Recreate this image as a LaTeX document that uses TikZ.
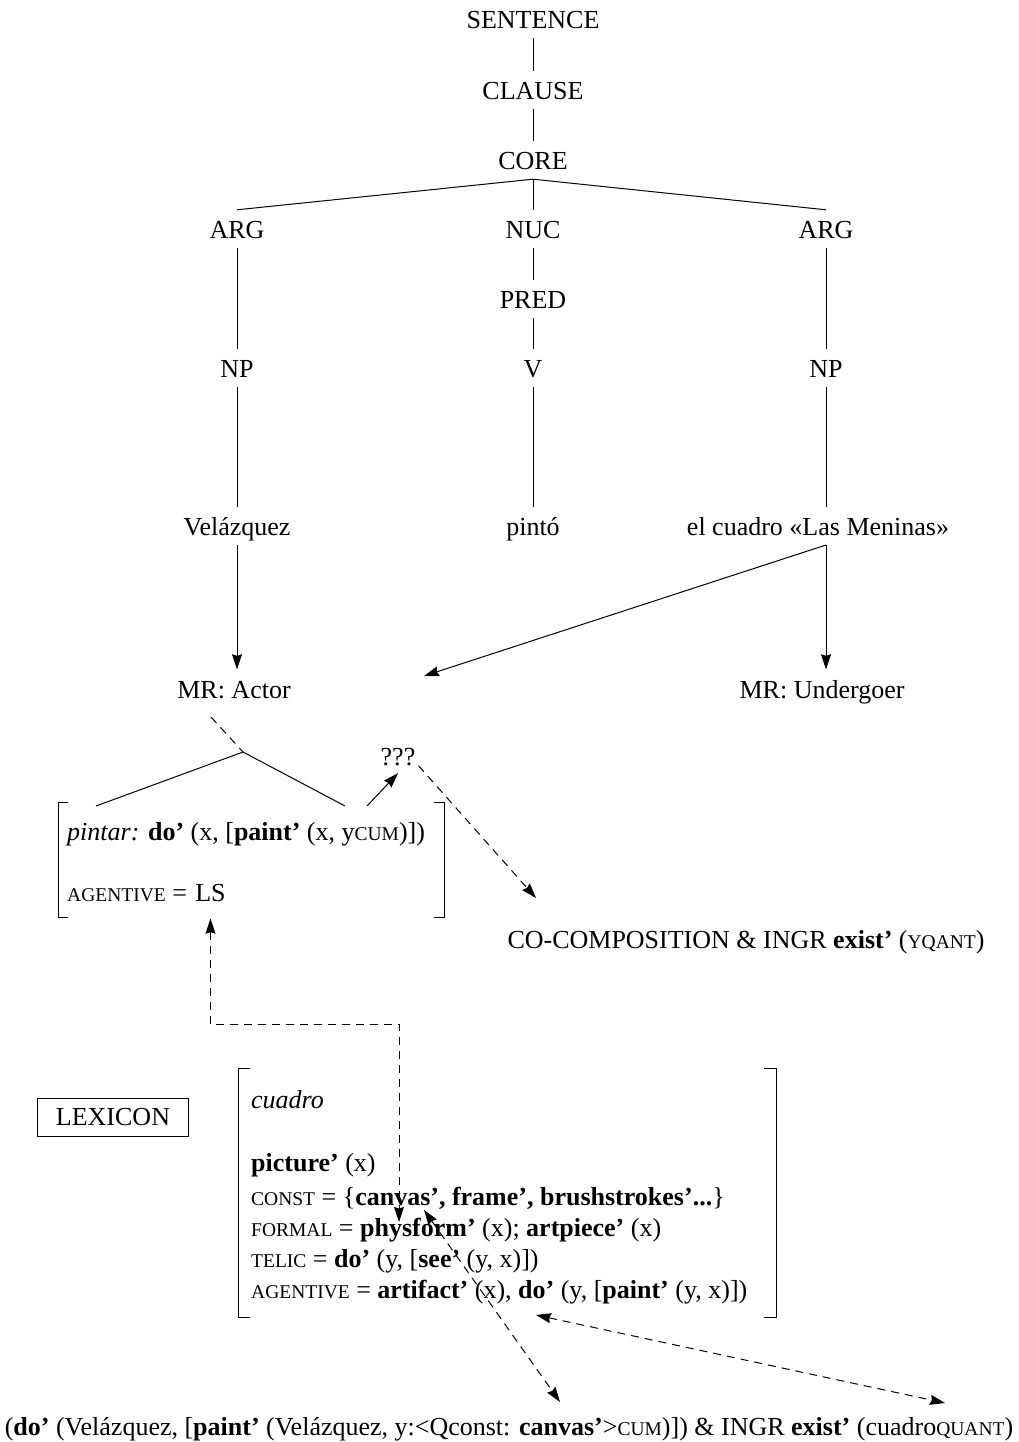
\documentclass[tikz,border=0pt]{standalone}
\usepackage{fontspec}
\setmainfont{Liberation Serif}
\usetikzlibrary{arrows.meta}
\newcommand\smcp[1]{{\fontsize{19.5}{22}\selectfont #1}}
\begin{document}
\begin{tikzpicture}[x=1pt,y=-1pt,
  every node/.style={font=\fontsize{26}{31}\selectfont},
  lbl/.style={inner xsep=3pt, inner ysep=0pt, text height=17pt, text depth=0pt},
  ln/.style={line width=1pt},
  tree/.style={ln, shorten <=9.5pt, shorten >=11pt},
  arr/.style={ln, -{Stealth[length=15pt,width=10pt,inset=1.5pt]}},
  dsh/.style={ln, dash pattern=on 8pt off 6pt},
  darr/.style={dsh, -{Stealth[length=15pt,width=10pt,inset=1.5pt]}},
  ddarr/.style={dsh, {Stealth[length=15pt,width=10pt,inset=1.5pt]}-{Stealth[length=15pt,width=10pt,inset=1.5pt]}},
]
\useasboundingbox (0,0) rectangle (1019,1442);
% tree
\node[lbl] (sent) at (533,20) {SENTENCE};
\node[lbl] (clause) at (533,91) {CLAUSE};
\node[lbl] (core) at (533,161) {CORE};
\node[lbl] (argL) at (237,230) {ARG};
\node[lbl] (nuc) at (533,230) {NUC};
\node[lbl] (argR) at (826,230) {ARG};
\node[lbl] (pred) at (533,300) {PRED};
\node[lbl] (npL) at (237,369) {NP};
\node[lbl] (verb) at (533,369) {V};
\node[lbl] (npR) at (826,369) {NP};
\node[lbl] (vel) at (237,527) {Velázquez};
\node[lbl] (pinto) at (533,527) {pintó};
\node[lbl] (cuad) at (818,527) {el cuadro «Las Meninas»};
\node[lbl] (actor) at (234,690) {MR: Actor};
\node[lbl] (under) at (822,690) {MR: Undergoer};

\draw[tree] (sent) -- (clause);
\draw[tree] (clause) -- (core);
\draw[ln] ([yshift=-9.5pt]core.south) -- ([yshift=11.5pt]argL.north);
\draw[ln] ([yshift=-9.5pt]core.south) -- ([yshift=11pt]nuc.north);
\draw[ln] ([yshift=-9.5pt]core.south) -- ([yshift=11.5pt]argR.north);
\draw[tree] (argL) -- (npL);
\draw[tree] (nuc) -- (pred);
\draw[tree] (argR) -- (npR);
\draw[tree] (pred) -- (verb);
\draw[tree] (npL) -- (vel);
\draw[tree] (verb) -- (pinto);
\draw[tree] (npR) -- (npR |- cuad.north);

\coordinate (cuadfoot) at (826,545);
\coordinate (actlink) at (424,676);
\draw[arr, shorten <=9.5pt, shorten >=12pt] (vel) -- (vel |- actor.north);
\draw[arr, shorten >=12pt] (cuadfoot) -- (cuadfoot |- under.north);
\draw[arr] (cuadfoot) -- (actlink);

% actor split
\coordinate (actfoot) at (211,717);
\coordinate (join) at (243,752);
\coordinate (pl) at (96,806);
\coordinate (pr) at (345,806);
\coordinate (prr) at (367,806);
\draw[dsh] (actfoot) -- (join);
\draw[ln] (pl) -- (join) -- (pr);
\node[lbl] (qqq) at (398,757) {???};
\draw[arr] (prr) -- ([yshift=-7.5pt]qqq.south);
\coordinate (cocotip) at (536,898);
\draw[darr] (qqq.south east) -- (cocotip);
\node[lbl] (coco) at (746,940) {CO-COMPOSITION \& INGR \textbf{exist’} (\smcp{YQANT})};

% pintar block
\node[lbl, anchor=west] (pintar) at (64,832) {\textit{pintar:} \textbf{do’} (x, [\textbf{paint’} (x, y\smcp{CUM})])};
\node[lbl, anchor=west] (agent) at (64,893) {\smcp{AGENTIVE} =};
\node[lbl, anchor=west, inner xsep=0pt] (ls) at ([xshift=5pt]agent.east) {LS};
\draw[ln] (68,802) -- (58,802) -- (58,917) -- (68,917);
\draw[ln] (434,802) -- (444,802) -- (444,917) -- (434,917);

% lexicon
\node[draw, ln, minimum width=151pt, minimum height=38pt, inner sep=0pt] (lex) at (113,1117) {LEXICON};

% cuadro block
\node[lbl, anchor=west] (cname) at (248,1100) {\textit{cuadro}};
\node[lbl, anchor=west] (pic) at (248,1163) {\textbf{picture’} (x)};
\node[lbl, anchor=west] (const) at (248,1197) {\smcp{CONST} = \{\textbf{canvas’, frame’, brushstrokes’...}\}};
\node[lbl, anchor=west] (formal) at (248,1228) {\smcp{FORMAL} = \textbf{physform’} (x); \textbf{artpiece’} (x)};
\node[lbl, anchor=west] (telic) at (248,1259) {\smcp{TELIC} = \textbf{do’} (y, [\textbf{see’} (y, x)])};
\node[lbl, anchor=west] (agentq) at (248,1290) {\smcp{AGENTIVE} = \textbf{artifact’} (x), \textbf{do’} (y, [\textbf{paint’} (y, x)])};
\draw[ln] (250,1068) -- (238,1068) -- (238,1317) -- (250,1317);
\draw[ln] (764,1068) -- (776,1068) -- (776,1317) -- (764,1317);

% LS link
\coordinate (lsbend) at (399,1024);
\coordinate (canvtip) at (399,1222);
\draw[ddarr] ([yshift=-17pt]ls.south) |- (lsbend) -- (canvtip);

% other links
\coordinate (sawtop) at (424,1210);
\coordinate (sawbot) at (560,1402);
\draw[ddarr] (sawtop) -- (sawbot);
\coordinate (painttip) at (536,1315);
\coordinate (quanttip) at (945,1403);
\draw[ddarr] (painttip) -- (quanttip);

\node[lbl] (result) at (509,1427) {(\textbf{do’} (Velázquez, [\textbf{paint’} (Velázquez, y:<Qconst: \textbf{canvas’}>\smcp{CUM})]) \& INGR \textbf{exist’} (cuadro\smcp{QUANT})};
\end{tikzpicture}
\end{document}
